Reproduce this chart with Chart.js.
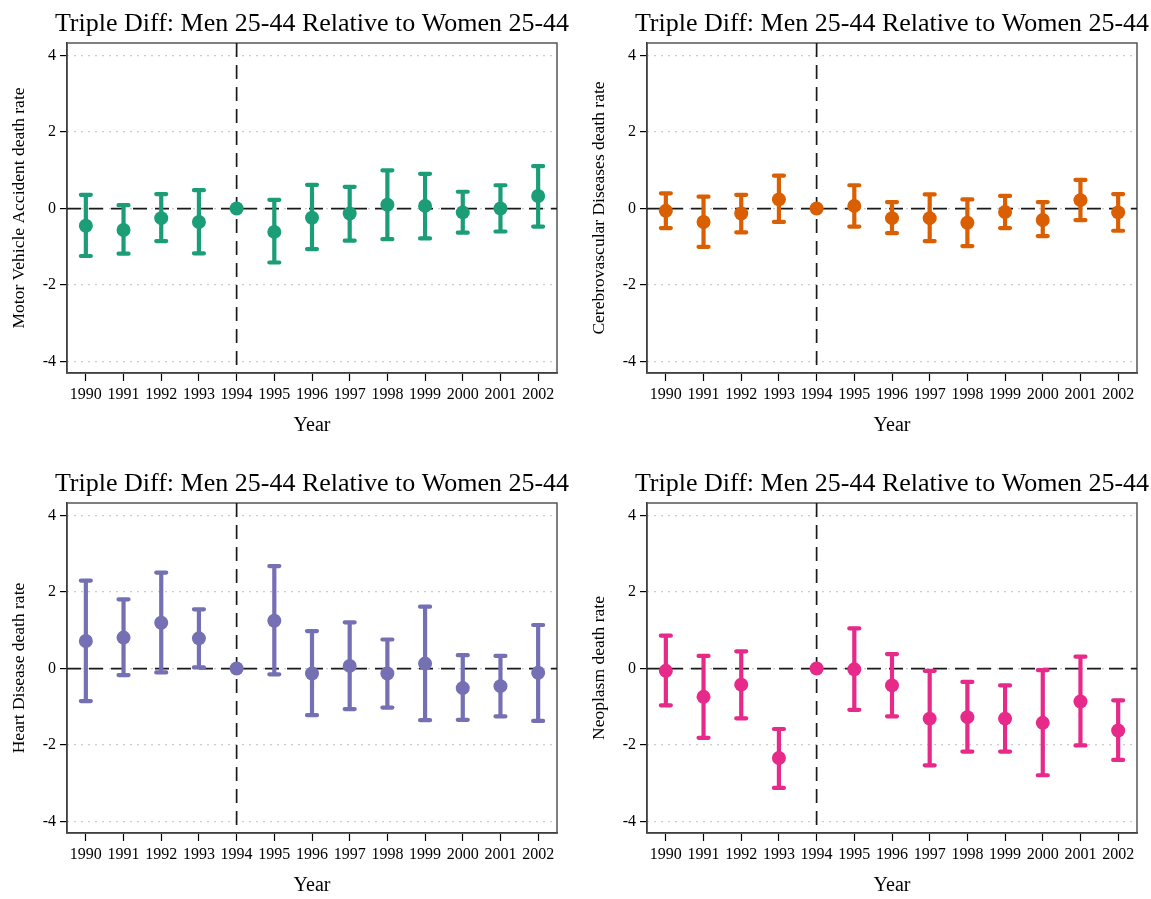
<!DOCTYPE html>
<html>
<head>
<meta charset="utf-8">
<script src="https://cdn.jsdelivr.net/npm/chart.js@4.4.1/dist/chart.umd.min.js"></script>
<style>
  html, body { margin: 0; padding: 0; background: #fff; }
  #wrap { position: relative; width: 1151px; height: 899px; overflow: hidden; }
  canvas { position: absolute; }
</style>
</head>
<body>
<div id="wrap">
  <canvas id="c1" width="624" height="439" style="left:0;top:0"></canvas>
  <canvas id="c2" width="624" height="439" style="left:580px;top:0"></canvas>
  <canvas id="c3" width="624" height="439" style="left:0;top:460px"></canvas>
  <canvas id="c4" width="624" height="439" style="left:580px;top:460px"></canvas>
</div>
<script>
// data
const years = [1990, 1991, 1992, 1993, 1994, 1995, 1996, 1997, 1998, 1999, 2000, 2001, 2002];
const yTicks = [-4, -2, 0, 2, 4];

const mvaEst = [-0.45, -0.56, -0.25, -0.35, 0, -0.61, -0.24, -0.13, 0.10, 0.07, -0.10, 0.00, 0.33];
const mvaLo  = [-1.24, -1.18, -0.85, -1.17, null, -1.41, -1.06, -0.84, -0.80, -0.78, -0.63, -0.60, -0.47];
const mvaHi  = [0.36, 0.09, 0.38, 0.48, null, 0.23, 0.62, 0.57, 1.00, 0.91, 0.44, 0.61, 1.11];

const cevEst = [-0.06, -0.35, -0.13, 0.24, 0, 0.07, -0.25, -0.25, -0.37, -0.09, -0.30, 0.22, -0.10];
const cevLo  = [-0.51, -1.00, -0.62, -0.35, null, -0.47, -0.64, -0.85, -0.98, -0.51, -0.72, -0.30, -0.58];
const cevHi  = [0.40, 0.31, 0.36, 0.86, null, 0.61, 0.17, 0.37, 0.24, 0.33, 0.17, 0.75, 0.38];

const heartEst = [0.72, 0.81, 1.20, 0.79, 0, 1.25, -0.13, 0.07, -0.13, 0.13, -0.51, -0.46, -0.11];
const heartLo  = [-0.85, -0.17, -0.10, 0.03, null, -0.15, -1.22, -1.06, -1.02, -1.35, -1.34, -1.25, -1.37];
const heartHi  = [2.30, 1.81, 2.51, 1.55, null, 2.68, 0.98, 1.21, 0.76, 1.62, 0.35, 0.33, 1.14];

const neoEst = [-0.06, -0.74, -0.42, -2.34, 0, -0.02, -0.44, -1.31, -1.27, -1.31, -1.42, -0.86, -1.62];
const neoLo  = [-0.96, -1.81, -1.30, -3.12, null, -1.08, -1.25, -2.53, -2.17, -2.17, -2.79, -2.01, -2.39];
const neoHi  = [0.86, 0.33, 0.45, -1.58, null, 1.05, 0.38, -0.06, -0.35, -0.44, -0.04, 0.31, -0.83];

const titleText = 'Triple Diff: Men 25-44 Relative to Women 25-44';
const serif = '"Liberation Serif", "Times New Roman", serif';

// frame, reference lines and whiskers, drawn under the points
const errorBars = {
  id: 'errorBars',
  beforeDatasetsDraw(chart) {
    const { ctx, chartArea: a, scales: { x, y } } = chart;
    const ds = chart.data.datasets[0];
    ctx.save();

    ctx.strokeStyle = '#555';
    ctx.lineWidth = 1.5;
    ctx.strokeRect(a.left, a.top, a.right - a.left, a.bottom - a.top);

    ctx.strokeStyle = '#1a1a1a';
    ctx.lineWidth = 1.7;
    ctx.setLineDash([14, 8]);
    const y0 = y.getPixelForValue(0);
    ctx.beginPath(); ctx.moveTo(a.left, y0); ctx.lineTo(a.right, y0); ctx.stroke();
    const xb = x.getPixelForValue(1994);
    ctx.beginPath(); ctx.moveTo(xb, a.top); ctx.lineTo(xb, a.bottom); ctx.stroke();
    ctx.setLineDash([]);

    ctx.strokeStyle = ds.backgroundColor;
    ctx.lineWidth = 4.2;
    ctx.lineCap = 'round';
    ds.lo.forEach((lo, i) => {
      const hi = ds.hi[i];
      if (lo === null || hi === null) return;
      const px = x.getPixelForValue(years[i]);
      const pl = y.getPixelForValue(lo);
      const ph = y.getPixelForValue(hi);
      ctx.beginPath();
      ctx.moveTo(px, pl); ctx.lineTo(px, ph);
      ctx.moveTo(px - 5, pl); ctx.lineTo(px + 5, pl);
      ctx.moveTo(px - 5, ph); ctx.lineTo(px + 5, ph);
      ctx.stroke();
    });
    ctx.restore();
  }
};

function makePanel(id, est, lo, hi, color, yLabel) {
  new Chart(document.getElementById(id), {
    type: 'scatter',
    data: {
      datasets: [{
        data: years.map((yr, i) => ({ x: yr, y: est[i] })),
        lo: lo,
        hi: hi,
        backgroundColor: color,
        borderWidth: 0,
        pointRadius: 7,
        showLine: false
      }]
    },
    plugins: [errorBars],
    options: {
      responsive: false,
      animation: false,
      events: [],
      layout: { padding: 0 },
      plugins: {
        legend: { display: false },
        tooltip: { enabled: false },
        title: {
          display: true,
          text: titleText,
          color: '#000',
          font: { family: serif, size: 26, weight: 'normal', lineHeight: 1.2 },
          padding: { top: 9, bottom: 2.8 }
        }
      },
      scales: {
        x: {
          type: 'linear',
          min: 1989.5,
          max: 2002.5,
          afterBuildTicks: s => { s.ticks = years.map(v => ({ value: v })); },
          afterFit: s => { s.height = 66; },
          border: { display: true, color: '#000', width: 1.5 },
          grid: { drawOnChartArea: false, drawTicks: true, tickLength: 8, tickColor: '#000', tickWidth: 1.2 },
          ticks: {
            autoSkip: false, maxRotation: 0, padding: 4, color: '#000',
            font: { family: serif, size: 16 },
            callback: v => String(v)
          },
          title: {
            display: true, text: 'Year', color: '#000',
            font: { family: serif, size: 20 },
            padding: { top: 0, bottom: 1 }
          }
        },
        y: {
          min: -4.3,
          max: 4.33,
          afterBuildTicks: s => { s.ticks = yTicks.map(v => ({ value: v })); },
          afterFit: s => { s.width = 67; },
          border: { display: true, color: '#000', width: 1.5, dash: [1, 6] },
          grid: { color: '#999', lineWidth: 1.2, drawTicks: true, tickLength: 7, tickColor: '#000', tickWidth: 1.2, tickBorderDash: [] },
          ticks: {
            padding: 4, color: '#000',
            font: { family: serif, size: 16 },
            callback: v => String(v)
          },
          title: {
            display: true, text: yLabel, color: '#000',
            font: { family: serif, size: 17.5 },
            padding: { top: 9, bottom: 0 }
          }
        },
        // empty right-hand axis, same width as the left one, so the title centres over the plot
        yRight: {
          type: 'linear',
          axis: 'y',
          position: 'right',
          afterFit: s => { s.width = 67; },
          border: { display: false },
          grid: { display: false, drawTicks: false },
          ticks: { display: false }
        }
      }
    }
  });
}

makePanel('c1', mvaEst, mvaLo, mvaHi, '#1b9e77', 'Motor Vehicle Accident death rate');
makePanel('c2', cevEst, cevLo, cevHi, '#d95f02', 'Cerebrovascular Diseases death rate');
makePanel('c3', heartEst, heartLo, heartHi, '#7570b3', 'Heart Disease death rate');
makePanel('c4', neoEst, neoLo, neoHi, '#e7298a', 'Neoplasm death rate');
</script>
</body>
</html>
